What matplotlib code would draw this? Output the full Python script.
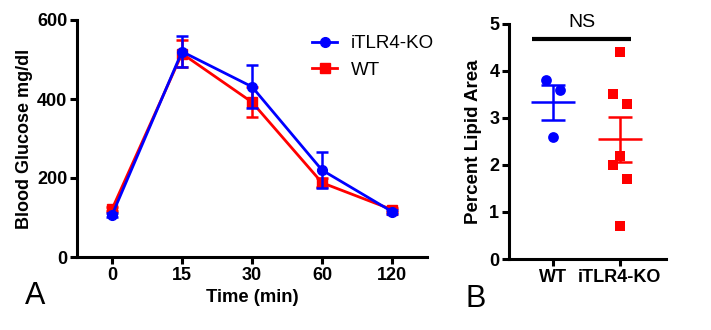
import matplotlib
matplotlib.use("Agg")
import matplotlib.pyplot as plt
from matplotlib.lines import Line2D
import numpy as np

plt.rcParams['font.family'] = ['Liberation Sans', 'DejaVu Sans']

# ---- Panel A data ----
time_labels = ['0', '15', '30', '60', '120']
ko_mean = [106, 520, 431, 220, 115]
ko_sem = [5, 40, 55, 45, 5]
wt_mean = [121, 515, 392, 188, 120]
wt_sem = [5, 35, 38, 12, 5]

# ---- Panel B data ----
groups = ['WT', 'iTLR4-KO']
wt_lipid = [3.8, 3.6, 2.6]
ko_lipid = [4.4, 3.5, 3.3, 2.2, 2.0, 1.7, 0.7]
wt_jitter = [-0.1, 0.1, 0.0]
ko_jitter = [0.0, -0.1, 0.1, 0.0, -0.1, 0.1, 0.0]

BLUE = '#0000ff'
RED = '#ff0000'

W, H = 711, 330
fig = plt.figure(figsize=(W / 100, H / 100), dpi=100)

def ax_px(l, r, t, b):
    return fig.add_axes([l / W, 1 - b / H, (r - l) / W, (b - t) / H])

def style(ax):
    for s in ['top', 'right']:
        ax.spines[s].set_visible(False)
    for s in ['left', 'bottom']:
        ax.spines[s].set_linewidth(2.2)
    ax.tick_params(width=2.2, length=5, labelsize=13, pad=2)
    for lab in ax.get_xticklabels() + ax.get_yticklabels():
        lab.set_fontweight('bold')

# Panel A
axA = ax_px(77, 427, 20, 257)
x = np.arange(len(time_labels))
axA.errorbar(x, wt_mean, yerr=wt_sem, color=RED, marker='s', markersize=6.5,
             lw=2, elinewidth=1.8, capsize=4.5, capthick=1.8, clip_on=False, zorder=3)
axA.errorbar(x, ko_mean, yerr=ko_sem, color=BLUE, marker='o', markersize=7,
             lw=2, elinewidth=1.8, capsize=4.5, capthick=1.8, clip_on=False, zorder=4)
axA.set_xlim(-0.5, 4.5)
axA.set_ylim(0, 600)
axA.set_yticks([0, 200, 400, 600])
axA.set_xticks(x)
axA.set_xticklabels(time_labels)
style(axA)
axA.set_ylabel('Blood Glucose mg/dl', fontsize=13, fontweight='bold', labelpad=3)
axA.set_xlabel('Time (min)', fontsize=13.3, fontweight='bold', labelpad=4)
handles = [Line2D([], [], color=BLUE, marker='o', markersize=7, lw=2),
           Line2D([], [], color=RED, marker='s', markersize=6.5, lw=2)]
axA.legend(handles, ['iTLR4-KO', 'WT'], loc='upper left',
           bbox_to_anchor=(312 / W, 1 - 35 / H), bbox_transform=fig.transFigure,
           frameon=False, fontsize=13.5, borderpad=0, borderaxespad=0,
           handlelength=1.35, handletextpad=0.7, labelspacing=0.5)
fig.text(25 / W, 1 - 304 / H, 'A', fontsize=22, ha='left', va='baseline')

# Panel B
axB = ax_px(509, 666, 24, 259)
for i, (vals, jit, col, mk) in enumerate([(wt_lipid, wt_jitter, BLUE, 'o'),
                                           (ko_lipid, ko_jitter, RED, 's')]):
    vals = np.array(vals)
    xs = i + np.array(jit)
    axB.scatter(xs, vals, color=col, marker=mk, s=60 if mk == 'o' else 55,
                linewidths=0, zorder=3, clip_on=False)
    m = vals.mean()
    se = vals.std(ddof=1) / np.sqrt(len(vals))
    axB.hlines(m, i - 0.33, i + 0.33, color=col, lw=1.8, zorder=4)
    axB.hlines([m - se, m + se], i - 0.18, i + 0.18, color=col, lw=1.8, zorder=4)
    axB.vlines(i, m - se, m + se, color=col, lw=1.8, zorder=4)
axB.set_xlim(-0.66, 1.69)
axB.set_ylim(0, 5)
axB.set_yticks([0, 1, 2, 3, 4, 5])
axB.set_xticks([0, 1])
axB.set_xticklabels(groups)
style(axB)
axB.set_ylabel('Percent Lipid Area', fontsize=13.5, fontweight='bold', labelpad=5)
axB.hlines(4.68, -0.32, 1.17, color='black', lw=3, clip_on=False)
axB.text(0.43, 4.85, 'NS', fontsize=14, ha='center', va='bottom')
fig.text(465 / W, 1 - 307 / H, 'B', fontsize=22, ha='left', va='baseline')

fig.savefig('out.png', dpi=100)
